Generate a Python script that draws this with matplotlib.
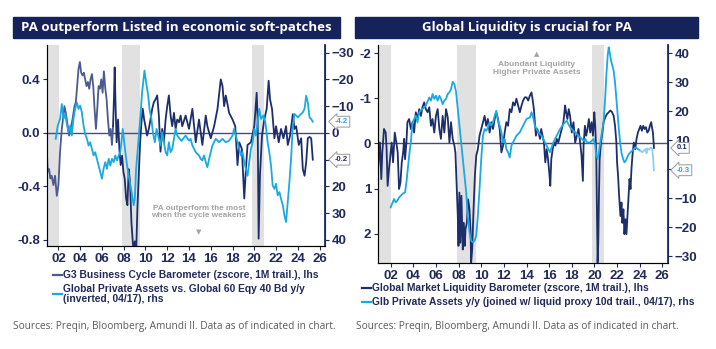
import matplotlib
matplotlib.use("Agg")
import matplotlib.pyplot as plt
import matplotlib.transforms as mtransforms
from matplotlib.patches import Rectangle

# ---- left panel: G3 business cycle barometer (lhs) ----
g3_years = [2000.95, 2001.02, 2001.14, 2001.26, 2001.38, 2001.54, 2001.69, 2001.85, 2002.0, 2002.15,
            2002.31, 2002.46, 2002.55, 2002.68, 2002.86, 2002.98, 2003.17, 2003.29, 2003.48, 2003.6,
            2003.72, 2003.85, 2003.97, 2004.09, 2004.22, 2004.34, 2004.46, 2004.58, 2004.71, 2004.83,
            2004.95, 2005.08, 2005.2, 2005.32, 2005.45, 2005.57, 2005.69, 2005.82, 2005.94, 2006.06,
            2006.18, 2006.31, 2006.43, 2006.55, 2006.68, 2006.8, 2006.92, 2007.02, 2007.11, 2007.17,
            2007.26, 2007.35, 2007.48, 2007.6, 2007.72, 2007.85, 2007.97, 2008.09, 2008.22, 2008.34,
            2008.46, 2008.58, 2008.71, 2008.83, 2008.92, 2009.02, 2009.14, 2009.26, 2009.38, 2009.51,
            2009.63, 2009.75, 2009.88, 2010.0, 2010.15, 2010.31, 2010.46, 2010.62, 2010.77, 2010.92,
            2011.08, 2011.23, 2011.38, 2011.54, 2011.69, 2011.85, 2012.0, 2012.15, 2012.31, 2012.46,
            2012.62, 2012.77, 2012.92, 2013.08, 2013.23, 2013.38, 2013.69, 2014.0, 2014.31, 2014.62,
            2014.92, 2015.23, 2015.54, 2015.69, 2016.0, 2016.31, 2016.62, 2016.92, 2017.08, 2017.23,
            2017.38, 2017.69, 2018.0, 2018.25, 2018.46, 2018.62, 2018.86, 2019.08, 2019.23, 2019.38,
            2019.69, 2020.0, 2020.22, 2020.31, 2020.4, 2020.52, 2020.71, 2020.92, 2021.14, 2021.32,
            2021.45, 2021.63, 2021.85, 2022.0, 2022.25, 2022.46, 2022.68, 2022.92, 2023.08, 2023.29,
            2023.54, 2023.69, 2023.85, 2024.09, 2024.31, 2024.46, 2024.62, 2024.77, 2024.92, 2025.08,
            2025.23, 2025.38]
g3_values = [-0.17, -0.29, -0.27, -0.34, -0.32, -0.39, -0.32, -0.47, -0.39, -0.14,
             0.03, 0.13, 0.20, 0.15, 0.05, -0.02, 0.05, 0.10, 0.20, 0.23,
             0.35, 0.48, 0.53, 0.45, 0.43, 0.45, 0.40, 0.35, 0.38, 0.33,
             0.40, 0.44, 0.35, 0.18, 0.03, 0.18, 0.35, 0.33, 0.40, 0.30,
             0.46, 0.33, 0.25, 0.10, -0.02, 0.03, -0.09, 0.05, 0.28, 0.49,
             0.18, -0.07, 0.10, -0.12, -0.24, -0.17, -0.29, -0.34, -0.49, -0.54,
             -0.27, -0.37, -0.67, -0.81, -0.91, -0.81, -0.91, -0.56, -0.32, -0.07,
             0.08, 0.18, 0.10, 0.05, -0.02, 0.03, 0.10, 0.18, 0.23, 0.25,
             0.28, 0.13, -0.14, 0.03, -0.07, 0.10, 0.20, 0.28, 0.13, 0.05,
             0.15, 0.03, 0.10, 0.08, 0.13, 0.05, 0.13, 0.03, 0.18, -0.07,
             0.10, -0.09, 0.13, 0.05, -0.04, 0.05, 0.18, 0.40, 0.35, 0.20,
             0.28, 0.15, 0.10, 0.05, -0.24, -0.07, -0.12, -0.49, -0.27, -0.09,
             -0.07, 0.05, 0.30, 0.10, -0.79, -0.32, -0.02, 0.10, 0.18, 0.39,
             0.25, 0.18, -0.04, 0.05, -0.07, 0.03, -0.04, 0.05, -0.09, -0.02,
             0.14, 0.03, 0.05, -0.09, -0.04, -0.27, -0.32, -0.22, -0.04, -0.03,
             -0.04, -0.2]

# ---- left panel: private assets vs 60/40, y/y, inverted (rhs) ----
pa_rel_years = [2001.75, 2001.94, 2002.15, 2002.31, 2002.46, 2002.62, 2002.77, 2002.92, 2003.08, 2003.23,
                2003.38, 2003.54, 2003.69, 2003.85, 2004.0, 2004.15, 2004.31, 2004.46, 2004.62, 2004.77,
                2004.92, 2005.08, 2005.23, 2005.38, 2005.54, 2005.69, 2005.85, 2006.0, 2006.15, 2006.31,
                2006.46, 2006.62, 2006.77, 2006.92, 2007.08, 2007.23, 2007.38, 2007.54, 2007.69, 2007.91,
                2008.15, 2008.31, 2008.46, 2008.62, 2008.77, 2008.92, 2009.02, 2009.14, 2009.32, 2009.54,
                2009.69, 2009.91, 2010.06, 2010.25, 2010.37, 2010.55, 2010.68, 2010.86, 2011.02, 2011.23,
                2011.38, 2011.54, 2011.69, 2011.85, 2012.0, 2012.15, 2012.31, 2012.46, 2012.62, 2012.77,
                2012.92, 2013.3, 2013.69, 2014.0, 2014.15, 2014.31, 2014.62, 2014.92, 2015.08, 2015.23,
                2015.38, 2015.54, 2015.69, 2015.85, 2016.15, 2016.46, 2016.77, 2017.08, 2017.38, 2017.69,
                2018.0, 2018.15, 2018.31, 2018.46, 2018.62, 2018.77, 2018.92, 2019.08, 2019.38, 2019.54,
                2019.69, 2019.85, 2020.0, 2020.15, 2020.31, 2020.46, 2020.62, 2020.83, 2021.02, 2021.23,
                2021.38, 2021.54, 2021.69, 2021.85, 2022.0, 2022.15, 2022.31, 2022.46, 2022.62, 2022.77,
                2022.92, 2023.08, 2023.23, 2023.38, 2023.54, 2023.69, 2023.85, 2024.0, 2024.15, 2024.31,
                2024.46, 2024.62, 2024.77, 2024.92, 2025.08, 2025.23, 2025.38]
pa_rel_values = [2.2, -2.7, -5.2, -10.8, -5.2, -7.1, -3.4, -0.2, -2.7, 1.0,
                 -5.2, -9.0, -11.4, -9.0, -10.2, -7.7, -2.7, 0.4, 2.2, 4.7,
                 3.5, 6.0, 8.4, 7.2, 9.7, 12.2, 14.7, 17.1, 13.4, 10.9,
                 13.4, 9.7, 12.2, 9.7, 10.9, 8.4, 10.3, 8.4, 7.2, -1.5,
                 7.2, 12.2, 16.0, 19.6, 23.3, 27.0, 24.6, 13.4, 4.7, -6.5,
                 -15.2, -23.3, -18.9, -14.0, -9.0, -5.2, -0.2, 3.5, -1.5, 2.2,
                 4.7, -0.2, 3.5, 7.2, 8.4, 3.5, 7.2, 6.0, 2.2, -1.5,
                 1.0, 3.0, 1.0, 2.9, 2.2, 4.7, 7.2, 8.4, 9.7, 10.3,
                 8.4, 10.9, 12.8, 9.7, 4.7, 2.2, 3.5, 2.2, 3.5, 2.9,
                 1.0, -1.5, 1.0, 3.5, 6.0, 8.4, 7.2, 10.9, 16.0, 11.0,
                 6.0, 3.5, -1.5, 1.0, -4.0, -9.0, -5.2, -6.5, -4.0, 3.5,
                 7.2, 12.2, 19.6, 20.9, 19.0, 23.3, 22.1, 24.6, 27.0, 30.8,
                 33.3, 25.8, 18.4, 9.7, -2.7, -7.1, -6.5, -5.8, -6.5, -7.1,
                 -7.7, -9.0, -13.9, -11.4, -5.8, -5.2, -4.2]

# ---- right panel: global market liquidity barometer (lhs, inverted) ----
liq_years = [2000.9, 2001.05, 2001.17, 2001.26, 2001.41, 2001.56, 2001.64, 2001.73, 2001.85, 2002.0,
             2002.09, 2002.21, 2002.36, 2002.5, 2002.62, 2002.74, 2002.86, 2002.98, 2003.1, 2003.19,
             2003.27, 2003.39, 2003.48, 2003.63, 2003.78, 2003.93, 2004.07, 2004.22, 2004.37, 2004.52,
             2004.67, 2004.81, 2004.96, 2005.11, 2005.26, 2005.41, 2005.56, 2005.7, 2005.85, 2006.0,
             2006.15, 2006.3, 2006.44, 2006.59, 2006.74, 2006.89, 2007.04, 2007.19, 2007.33, 2007.48,
             2007.63, 2007.72, 2007.84, 2007.93, 2007.99, 2008.07, 2008.16, 2008.25, 2008.31, 2008.37,
             2008.46, 2008.55, 2008.61, 2008.73, 2008.84, 2008.96, 2009.05, 2009.11, 2009.2, 2009.32,
             2009.44, 2009.56, 2009.7, 2009.85, 2010.0, 2010.15, 2010.3, 2010.44, 2010.59, 2010.74,
             2010.89, 2011.04, 2011.19, 2011.33, 2011.48, 2011.63, 2011.78, 2011.93, 2012.07, 2012.22,
             2012.37, 2012.52, 2012.67, 2012.81, 2012.96, 2013.11, 2013.26, 2013.41, 2013.56, 2013.7,
             2013.85, 2014.0, 2014.15, 2014.3, 2014.44, 2014.53, 2014.65, 2014.74, 2014.83, 2014.95,
             2015.07, 2015.19, 2015.3, 2015.42, 2015.54, 2015.66, 2015.78, 2015.9, 2016.01, 2016.1,
             2016.19, 2016.31, 2016.43, 2016.55, 2016.67, 2016.81, 2016.96, 2017.11, 2017.26, 2017.41,
             2017.5, 2017.61, 2017.73, 2017.85, 2018.0, 2018.15, 2018.3, 2018.44, 2018.59, 2018.74,
             2018.86, 2018.98, 2019.04, 2019.16, 2019.27, 2019.39, 2019.51, 2019.63, 2019.75, 2019.87,
             2019.99, 2020.07, 2020.16, 2020.22, 2020.28, 2020.34, 2020.4, 2020.46, 2020.58, 2020.7,
             2020.81, 2020.96, 2021.11, 2021.26, 2021.41, 2021.56, 2021.7, 2021.82, 2021.94, 2022.0,
             2022.09, 2022.18, 2022.3, 2022.39, 2022.47, 2022.56, 2022.65, 2022.74, 2022.83, 2022.92,
             2023.01, 2023.1, 2023.19, 2023.27, 2023.36, 2023.48, 2023.6, 2023.72, 2023.84, 2023.96,
             2024.07, 2024.19, 2024.31, 2024.43, 2024.55, 2024.67, 2024.79, 2024.9, 2025.02, 2025.08,
             2025.17, 2025.26]
liq_values = [0.50, -0.02, 0.79, 0.20, -0.32, -0.24, 0.13, 0.94, 0.57, 0.20,
              -0.02, 0.42, -0.24, -0.02, 0.20, 1.01, 0.87, 0.42, 0.20, -0.10,
              0.35, -0.02, -0.47, -0.54, -0.32, -0.47, -0.24, -0.69, -0.54, -0.76,
              -0.61, -0.80, -0.91, -0.76, -0.69, -0.80, -0.39, -0.54, -0.24, -0.61,
              -0.76, -0.32, -0.10, -0.61, -0.24, -0.76, -0.58, -0.02, -0.47, -0.10,
              0.05, 0.20, 1.01, 1.61, 2.27, 1.09, 2.20, 1.16, 1.76, 2.35,
              1.76, 2.27, 1.90, 1.76, 1.24, 1.46, 1.90, 2.64, 2.35, 1.46,
              0.72, 0.27, 0.13, -0.17, -0.32, -0.47, -0.61, -0.39, -0.54, -0.24,
              -0.47, -0.32, -0.54, -0.69, -0.54, -0.32, 0.20, 0.05, -0.24, -0.47,
              -0.39, -0.76, -0.69, -0.91, -0.84, -0.99, -0.84, -0.69, -0.84, -0.95,
              -1.02, -1.02, -0.95, -1.06, -1.13, -0.99, -0.76, -0.47, -0.17, -0.32,
              -0.24, -0.10, -0.32, -0.17, -0.02, 0.42, 0.13, 0.35, 0.64, 0.94,
              0.35, 0.13, -0.02, 0.05, -0.10, -0.02, -0.17, -0.32, -0.47, -0.84,
              -0.69, -0.54, -0.76, -0.61, -0.24, -0.47, -0.02, -0.17, -0.32, -0.02,
              0.27, 0.83, 0.05, -0.39, -0.17, -0.32, -0.54, -0.24, -0.47, -0.17,
              -0.69, -0.39, 0.20, 1.46, 2.64, 2.20, 1.16, 0.35, -0.02, -0.24,
              -0.47, -0.58, -0.65, -0.69, -0.73, -0.69, -0.61, -0.39, -0.02, 0.42,
              0.72, 1.16, 1.61, 1.31, 1.76, 1.46, 2.01, 1.68, 2.01, 1.61,
              1.24, 0.79, 1.01, 0.57, 0.27, -0.02, 0.13, -0.10, -0.24, -0.32,
              -0.39, -0.28, -0.39, -0.32, -0.36, -0.24, -0.28, -0.39, -0.47, -0.36,
              -0.24, 0.1]

# ---- right panel: global private assets y/y (rhs) ----
pa_yy_years = [2002.0, 2002.3, 2002.44, 2002.59, 2002.74, 2003.04, 2003.27, 2003.39, 2003.51, 2003.63,
               2003.78, 2003.93, 2004.07, 2004.22, 2004.37, 2004.52, 2004.81, 2005.11, 2005.41, 2005.56,
               2005.7, 2005.85, 2006.0, 2006.15, 2006.3, 2006.44, 2006.59, 2006.74, 2006.89, 2007.04,
               2007.19, 2007.33, 2007.48, 2007.63, 2007.78, 2007.93, 2008.07, 2008.22, 2008.37, 2008.52,
               2008.67, 2008.81, 2008.96, 2009.11, 2009.26, 2009.41, 2009.56, 2009.7, 2009.85, 2010.0,
               2010.15, 2010.3, 2010.44, 2010.59, 2010.74, 2010.89, 2011.04, 2011.19, 2011.33, 2011.48,
               2011.63, 2011.78, 2011.93, 2012.07, 2012.22, 2012.37, 2012.52, 2012.67, 2012.81, 2012.96,
               2013.11, 2013.41, 2013.7, 2014.0, 2014.3, 2014.44, 2014.59, 2014.74, 2014.89, 2015.04,
               2015.19, 2015.33, 2015.48, 2015.63, 2015.78, 2015.93, 2016.07, 2016.22, 2016.37, 2016.67,
               2016.96, 2017.26, 2017.56, 2017.7, 2017.85, 2018.0, 2018.15, 2018.3, 2018.44, 2018.59,
               2018.74, 2018.89, 2019.04, 2019.19, 2019.33, 2019.48, 2019.63, 2019.78, 2019.93, 2020.07,
               2020.16, 2020.28, 2020.4, 2020.52, 2020.67, 2020.81, 2020.96, 2021.05, 2021.17, 2021.26,
               2021.35, 2021.47, 2021.59, 2021.7, 2021.82, 2021.94, 2022.06, 2022.18, 2022.3, 2022.41,
               2022.53, 2022.65, 2022.77, 2022.89, 2023.04, 2023.19, 2023.33, 2023.48, 2023.63, 2023.78,
               2023.93, 2024.07]
pa_yy_values = [-13.1, -10.2, -11.4, -10.8, -9.7, -8.5, -7.9, -4.5, 0.1, 4.7,
                9.3, 16.2, 17.4, 18.5, 16.2, 19.7, 20.8, 22.0, 24.8, 23.7,
                26.0, 24.3, 25.4, 23.7, 25.4, 24.3, 22.5, 23.7, 24.3, 26.0,
                26.6, 27.7, 30.2, 29.4, 26.6, 20.8, 15.1, 9.3, 3.6, -2.2,
                -7.9, -16.0, -21.7, -24.6, -25.2, -24.6, -22.9, -16.0, -6.8, 3.6,
                11.6, 13.9, 13.3, 14.5, 16.2, 15.1, 16.2, 18.5, 20.2, 16.8,
                15.1, 12.8, 9.3, 10.5, 7.0, 5.9, 4.1, 8.2, 9.3, 10.5,
                11.6, 12.8, 15.1, 17.4, 17.9, 19.7, 17.9, 15.1, 13.9, 12.8,
                12.2, 11.6, 10.5, 9.3, 8.2, 7.0, 5.9, 7.6, 9.3, 11.6,
                13.9, 15.6, 16.8, 15.6, 14.5, 13.9, 13.3, 12.8, 12.2, 11.6,
                11.0, 10.5, 9.9, 10.5, 9.3, 9.3, 9.3, 9.9, 10.5, 8.2,
                4.7, 3.6, 5.9, 9.3, 12.8, 16.2, 25.4, 32.3, 39.2, 42.1,
                40.3, 37.5, 35.7, 34.0, 30.0, 24.3, 18.5, 12.8, 8.2, 5.3,
                3.6, 2.4, 3.0, 4.1, 5.3, 5.9, 6.4, 7.0, 7.6, 7.2,
                6.8, 6.4]
# liquid proxy used to extend the series
proxy_years = [2024.07, 2024.22, 2024.37, 2024.52, 2024.61, 2024.67, 2024.81, 2024.9, 2025.02, 2025.1,
               2025.19, 2025.25]
proxy_values = [6.4, 5.9, 6.4, 7.0, 5.6, 7.2, 6.8, 7.2, 7.5, 7.0, 4.1, -0.3]

recessions = [(2001.0, 2002.05), (2007.85, 2009.5), (2019.75, 2020.85)]
year_ticks = list(range(2002, 2027, 2))

NAVY = "#1d2f6b"
SLATE = "#4a5a92"
CYAN = "#1aa9e3"
PROXY = "#8ccff0"
SHADE = "#e1e1e1"
TXT = "#1f2a5a"
NOTE = "#a3a3a3"

W, H = 716, 349
fig = plt.figure(figsize=(W / 100, H / 100), dpi=100)
fig.patch.set_facecolor("white")


def px_axes(x0, y0, x1, y1):
    return fig.add_axes([x0 / W, 1 - y1 / H, (x1 - x0) / W, (y1 - y0) / H])


def title_bar(x0, x1, text):
    fig.patches.append(Rectangle((x0 / W, 1 - 38 / H), (x1 - x0) / W, 21 / H,
                                 transform=fig.transFigure, color="#15235a"))
    fig.text((x0 + x1) / 2 / W, 1 - 27.5 / H, text, color="white", fontsize=9.5,
             fontweight="bold", family="Open Sans", ha="center", va="center")


def style(ax, twin):
    ax.spines["top"].set_visible(False)
    twin.spines["top"].set_visible(False)
    ax.spines["left"].set_color("#2a3560")
    ax.spines["bottom"].set_color("#2a3560")
    twin.spines["right"].set_color(NAVY)
    twin.spines["right"].set_linewidth(1.3)
    for a in (ax, twin):
        a.tick_params(colors=TXT, labelsize=9.5, length=3, width=0.8, pad=2)
        for lab in a.get_xticklabels() + a.get_yticklabels():
            lab.set_fontweight("bold")
            lab.set_family("Liberation Sans")
    ax.set_xticks(year_ticks)
    ax.set_xticklabels([f"{y % 100:02d}" for y in year_ticks], fontweight="bold",
                       family="Liberation Sans")
    for lo, hi in recessions:
        ax.axvspan(lo, hi, color=SHADE, lw=0, zorder=0)


def value_tag(twin, x_ax, y, trans_y, text, color):
    tr = mtransforms.blended_transform_factory(twin.transAxes, trans_y)
    twin.text(x_ax, y, text, transform=tr, fontsize=5.5, color=color, fontweight="bold",
              ha="left", va="center", zorder=10, clip_on=False, family="Liberation Sans",
              bbox=dict(boxstyle="larrow,pad=0.25", fc="white", ec="#9a9a9a", lw=0.7))


def legend_entry(x, y, color, text):
    fig.lines.append(plt.Line2D([(x - 10) / W, (x - 1) / W], [1 - y / H] * 2, color=color,
                                lw=1.6, transform=fig.transFigure))
    fig.text(x / W, 1 - y / H, text, fontsize=7.4, fontweight="bold", color=TXT,
             va="center", linespacing=1.1, family="Liberation Sans")


# ================= left panel =================
title_bar(13, 340, "PA outperform Listed in economic soft-patches")
ax = px_axes(47, 45, 325, 246)
ax2 = ax.twinx()
ax.set_xlim(2000.95, 2026.5)
ax.set_ylim(-0.845, 0.657)
ax2.set_ylim(42.25, -32.85)
ax.set_yticks([-0.8, -0.4, 0.0, 0.4])
ax.set_yticklabels(["-0.8", "-0.4", "0.0", "0.4"])
ax2.set_yticks([-30, -20, -10, 0, 10, 20, 30, 40])
style(ax, ax2)
ax.axhline(0, color="#4a4f70", lw=1.0, zorder=1)

split = g3_years.index(2007.02) + 1
ax.plot(g3_years[:split], g3_values[:split], color=SLATE, lw=1.3, zorder=3)
ax.plot(g3_years[split - 1:], g3_values[split - 1:], color=NAVY, lw=1.3, zorder=3)
ax2.plot(pa_rel_years, pa_rel_values, color=CYAN, lw=1.3, zorder=2)

ax.text(2014.9, -0.59, "PA outperform the most\nwhen the cycle weakens", color=NOTE,
        fontsize=5.9, fontweight="bold", ha="center", va="center", linespacing=1.15,
        family="Liberation Sans")
ax.text(2014.9, -0.745, "\u25BC", color=NOTE, fontsize=5, ha="center", va="center")

value_tag(ax2, 1.035, pa_rel_values[-1], ax2.transData, f"{pa_rel_values[-1]:.1f}", CYAN)
value_tag(ax2, 1.035, g3_values[-1], ax.transData, f"{g3_values[-1]:.1f}", NAVY)

legend_entry(63, 275, SLATE, "G3 Business Cycle Barometer (zscore, 1M trail.), lhs")
legend_entry(63, 294, CYAN, "Global Private Assets vs. Global 60 Eqy 40 Bd y/y\n(inverted, 04/17), rhs")

# ================= right panel =================
title_bar(355, 698, "Global Liquidity is crucial for PA")
bx = px_axes(378, 45, 668, 263)
bx2 = bx.twinx()
bx.set_xlim(2000.88, 2026.5)
bx.set_ylim(2.65, -2.18)
bx2.set_ylim(-32.3, 42.9)
bx.set_yticks([-2, -1, 0, 1, 2])
bx.set_yticklabels(["-2", "-1", "0", "1", "2"])
bx2.set_yticks([-30, -20, -10, 0, 10, 20, 30, 40])
style(bx, bx2)
bx.axhline(0, color="#4a4f70", lw=1.0, zorder=1)

bx.plot(liq_years, liq_values, color=NAVY, lw=1.3, zorder=3)
bx2.plot(pa_yy_years, pa_yy_values, color=CYAN, lw=1.3, zorder=2)
bx2.plot(proxy_years, proxy_values, color=PROXY, lw=1.3, zorder=2)

bx.text(2014.9, -1.98, "\u25B2", color=NOTE, fontsize=5, ha="center", va="center")
bx.text(2014.9, -1.65, "Abundant Liquidity\nHigher Private Assets", color=NOTE,
        fontsize=6.0, fontweight="bold", ha="center", va="center", linespacing=1.2,
        family="Liberation Sans")

value_tag(bx2, 1.03, liq_values[-1], bx.transData, f"{liq_values[-1]:.1f}", NAVY)
value_tag(bx2, 1.03, proxy_values[-1], bx2.transData, f"{proxy_values[-1]:.1f}", CYAN)

legend_entry(372, 288, NAVY, "Global Market Liquidity Barometer (zscore, 1M trail.), lhs")
legend_entry(372, 302, CYAN, "Glb Private Assets y/y (joined w/ liquid proxy 10d trail., 04/17), rhs")

# sources
src = "Sources: Preqin, Bloomberg, Amundi II. Data as of indicated in chart."
fig.text(13 / W, 1 - 327 / H, src, fontsize=7.3, color="#5a5a5a", va="center", family="Open Sans")
fig.text(356 / W, 1 - 327 / H, src, fontsize=7.3, color="#5a5a5a", va="center", family="Open Sans")

fig.savefig("out.png", dpi=100)
